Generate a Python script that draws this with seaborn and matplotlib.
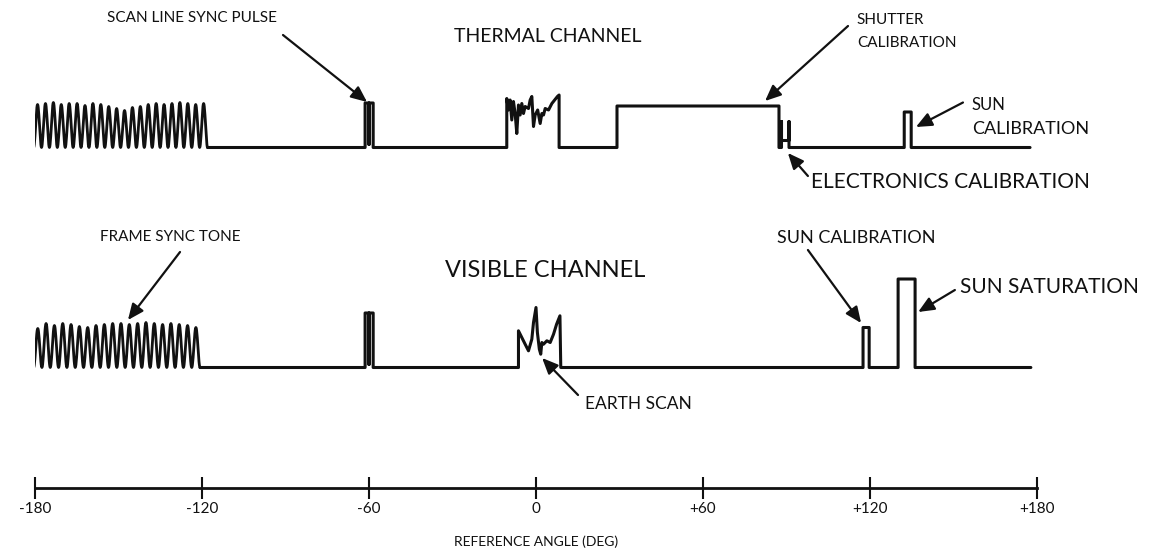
import numpy as np
import matplotlib
matplotlib.use("Agg")
import matplotlib.pyplot as plt
import seaborn as sns

sns.set_theme(style="white")
plt.rcParams['font.family'] = ['Lato', 'DejaVu Sans']

# reference angle axis
tick_angles = [-180, -120, -60, 0, 60, 120, 180]
tick_labels = ['-180', '-120', '-60', '0', '+60', '+120', '+180']

# frame sync tone: start/end angle and the peak of each cycle
thermal_tone_span = (-180.5, -118.0)
thermal_tone_peaks = [4.3, 4.4, 4.5, 4.3, 4.4, 4.4, 4.2, 4.4, 4.3, 4.1, 3.9,
                      3.7, 4.0, 4.1, 4.3, 4.4, 4.3, 4.4, 4.5, 4.4, 4.3, 4.4]
visible_tone_span = (-180.5, -120.7)
visible_tone_peaks = [3.9, 4.4, 4.2, 4.4, 4.3, 4.1, 4.0, 4.2, 4.3, 4.4,
                      4.4, 4.3, 4.4, 4.5, 4.4, 4.3, 4.4, 4.3, 4.2, 4.0]

# thermal channel trace after the tone (angle, level)
thermal_angle = [-118.0, -61.4, -61.4, -60.0, -60.0, -60.0, -58.5, -58.5,
                 -10.5, -10.5, -9.9, -9.3, -8.7, -8.1, -7.5, -6.9, -6.3, -5.7,
                 -5.1, -4.5, -3.9, -2.7, -2.1, -1.5, -0.9, -0.3, 0.6, 1.5, 2.1,
                 2.7, 3.3, 4.5, 5.7, 7.7, 8.3, 8.3,
                 29.1, 29.1, 87.3, 87.3,
                 88.2, 88.2, 88.2, 90.9, 90.9, 90.9,
                 132.3, 132.3, 134.8, 134.8, 177.5]
thermal_level = [0, 0, 4.45, 4.45, 0.3, 4.45, 4.45, 0,
                 0, 4.9, 3.75, 4.75, 2.75, 4.6, 3.4, 1.4, 4.25, 3.25,
                 4.4, 3.4, 4.1, 3.9, 4.75, 5.1, 2.1, 3.25, 3.75, 2.4, 3.4,
                 3.25, 3.9, 3.75, 4.4, 5.1, 5.25, 0,
                 0, 4.15, 4.15, 0,
                 0, 2.6, 0.7, 0.7, 2.6, 0,
                 0, 3.55, 3.55, 0, 0]

# visible channel trace after the tone (angle, level)
visible_angle = [-120.7, -61.4, -61.4, -60.0, -60.0, -60.0, -58.5, -58.5,
                 -6.3, -6.3, -3.9, -2.7, -1.5, -0.9, 0.0, 0.5, 1.2, 1.7, 2.1,
                 2.7, 3.9, 5.1, 6.3, 7.4, 8.6, 8.9,
                 117.5, 117.5, 119.7, 119.7,
                 130.1, 130.1, 136.2, 136.2, 177.8]
visible_level = [0, 0, 5.45, 5.45, 0.3, 5.45, 5.45, 0,
                 0, 3.67, 2.33, 1.67, 2.83, 4.5, 6.0, 3.5, 1.83, 1.33, 2.5,
                 2.33, 2.67, 2.5, 3.33, 4.33, 5.17, 0,
                 0, 4.0, 4.0, 0,
                 0, 8.85, 8.85, 0, 0]

thermal_base = 0.0
visible_base = -22.0


def tone_trace(span, peaks, base):
    # one rounded cycle per peak, sitting on the channel baseline
    width = (span[1] - span[0]) / len(peaks)
    t = np.linspace(0, 1, 25)
    xs, ys = [], []
    for i, h in enumerate(peaks):
        xs.extend(span[0] + (i + t) * width)
        ys.extend(base + h * (1 - np.cos(2 * np.pi * t)) / 2)
    return xs, ys


fig = plt.figure(figsize=(11.51, 5.55), dpi=100)
ax = fig.add_axes([35 / 1151, 0, 1002 / 1151, 1])
ax.set_xlim(-180, 180)
ax.set_ylim(-40.75, 14.75)
ax.axis('off')

ink = '#111111'
for span, peaks, angle, level, base in [
        (thermal_tone_span, thermal_tone_peaks, thermal_angle, thermal_level, thermal_base),
        (visible_tone_span, visible_tone_peaks, visible_angle, visible_level, visible_base)]:
    tx, ty = tone_trace(span, peaks, base)
    sns.lineplot(x=tx, y=ty, ax=ax, estimator=None, sort=False,
                 color=ink, lw=2.0)
    sns.lineplot(x=angle, y=[base + v for v in level], ax=ax, estimator=None,
                 sort=False, color=ink, lw=2.2)

arrow = dict(arrowstyle='-|>,head_length=0.8,head_width=0.35', color=ink,
             lw=1.6, shrinkA=0, shrinkB=0)


def label(x, y, s, size=11, ha='left'):
    ax.text(x, y, s, ha=ha, va='center', color=ink, fontsize=size)


label(4.3, 11.15, 'THERMAL CHANNEL', 14, 'center')
label(3.2, -12.25, 'VISIBLE CHANNEL', 17, 'center')

label(-123.6, 12.95, 'SCAN LINE SYNC PULSE', 11, 'center')
ax.annotate('', xy=(-60.7, 4.55), xytext=(-90.9, 11.25), arrowprops=arrow)

label(115.3, 12.75, 'SHUTTER')
label(115.3, 10.45, 'CALIBRATION')
ax.annotate('', xy=(82.3, 4.65), xytext=(112.1, 12.15), arrowprops=arrow)

label(156.6, 4.25, 'SUN', 12)
label(156.6, 1.9, 'CALIBRATION', 13)
ax.annotate('', xy=(136.5, 2.05), xytext=(153.4, 4.5), arrowprops=arrow)

label(98.8, -3.45, 'ELECTRONICS CALIBRATION', 15)
ax.annotate('', xy=(90.5, -0.55), xytext=(97.7, -2.85), arrowprops=arrow)

label(-131.5, -8.95, 'FRAME SYNC TONE', 11, 'center')
ax.annotate('', xy=(-146.6, -17.25), xytext=(-127.9, -10.45), arrowprops=arrow)

label(115.2, -9.05, 'SUN CALIBRATION', 13, 'center')
ax.annotate('', xy=(116.8, -17.55), xytext=(97.7, -10.25), arrowprops=arrow)

label(152.3, -13.95, 'SUN SATURATION', 15)
ax.annotate('', xy=(137.3, -16.45), xytext=(150.5, -14.25), arrowprops=arrow)

label(17.6, -25.65, 'EARTH SCAN', 12.5)
ax.annotate('', xy=(2.2, -21.05), xytext=(15.1, -24.75), arrowprops=arrow)

# reference angle axis drawn as a real x axis
ax2 = fig.add_axes([35 / 1151, (555 - 488) / 555, 1002 / 1151, 0.0001])
ax2.set_facecolor('none')
ax2.set_xlim(-180, 180)
ax2.set_yticks([])
for side in ['top', 'left', 'right']:
    ax2.spines[side].set_visible(False)
ax2.spines['bottom'].set_color(ink)
ax2.spines['bottom'].set_linewidth(2)
ax2.set_xticks(tick_angles)
ax2.set_xticklabels(tick_labels)
ax2.tick_params(axis='x', direction='inout', length=16, width=1.5,
                colors=ink, labelsize=11, pad=2, bottom=True)
ax2.set_xlabel('REFERENCE ANGLE (DEG)', fontsize=10, color=ink, labelpad=14)

fig.savefig('out.png', dpi=100, facecolor='white')
